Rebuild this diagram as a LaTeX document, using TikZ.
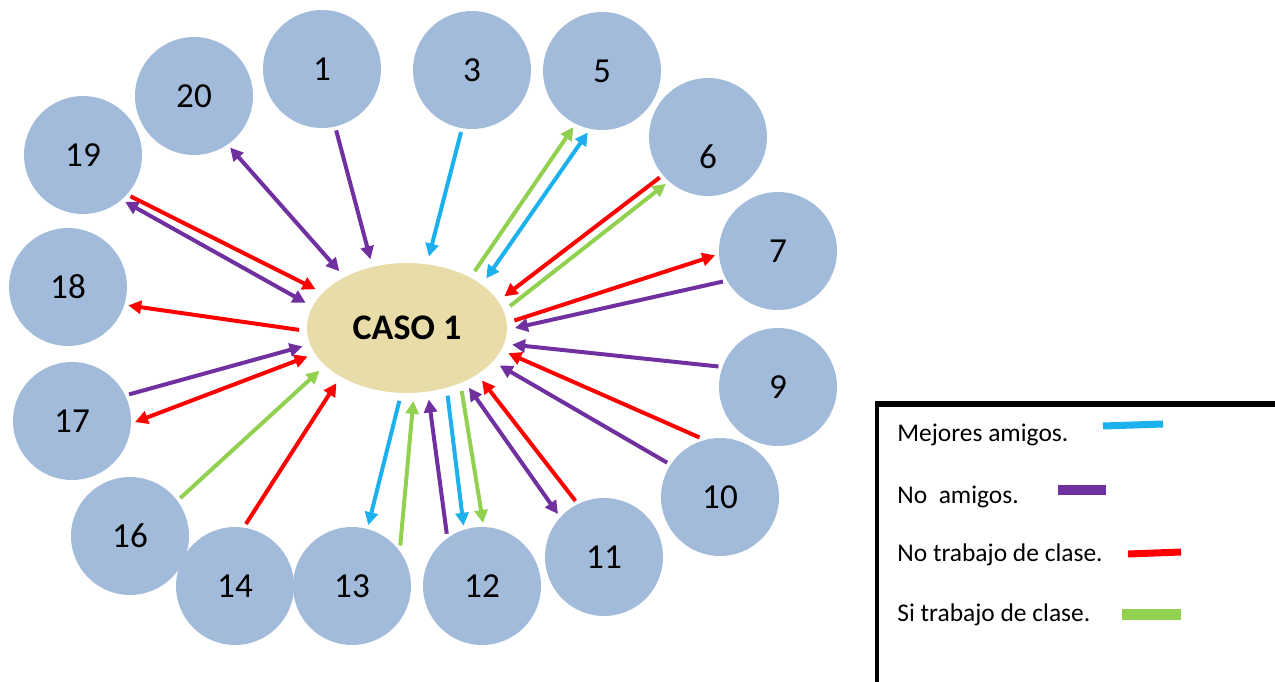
\documentclass[tikz,border=0pt]{standalone}
\usepackage{fontspec}
\setmainfont{Carlito}
\usepackage{xcolor}
\usepackage{tikz}
\usetikzlibrary{arrows.meta,shapes.geometric}
\definecolor{AmigoBlue}{HTML}{1CB0EC}
\definecolor{NoAmigoPurple}{HTML}{7030A0}
\definecolor{NoTrabajoRed}{HTML}{FF0000}
\definecolor{SiTrabajoGreen}{HTML}{92D050}
\definecolor{AlumnoBlue}{HTML}{A3BBDA}
\definecolor{CasoTan}{HTML}{E8DCA9}

\begin{document}
\begin{tikzpicture}[x=0.02cm, y=-0.02cm,
    alumno/.style={circle, fill=AlumnoBlue, minimum size=2.36cm, inner sep=0pt,
      outer sep=0.08cm, font=\fontsize{20}{24}\selectfont},
    caso/.style={ellipse, fill=CasoTan, minimum width=4cm, minimum height=2.6cm,
      inner sep=0pt, outer sep=0.16cm, font=\bfseries\fontsize{20.5}{24}\selectfont},
    arrow/.style={-{Triangle[length=2.6mm,width=2.6mm]}, line width=0.8mm},
    twoway/.style={{Triangle[length=2.6mm,width=2.6mm]}-{Triangle[length=2.6mm,width=2.6mm]}, line width=0.8mm},
    legend/.style={anchor=west, inner sep=0pt, font=\fontsize{14.5}{17}\selectfont}
  ]
    \useasboundingbox (0,0) rectangle (1275,682);
    \node[caso] (caso) at (407,328) {CASO 1};
    \node[alumno] (n1) at (322,69) {1};
    \node[alumno] (n3) at (472,70) {3};
    \node[alumno] (n5) at (602,71) {5};
    \node[alumno, label={[yshift=-0.4cm, font=\fontsize{20}{24}\selectfont]center:6}] (n6) at (708,137) {};
    \node[alumno] (n7) at (778,251) {7};
    \node[alumno] (n9) at (778,387) {9};
    \node[alumno] (n10) at (720,497) {10};
    \node[alumno] (n11) at (604,557) {11};
    \node[alumno] (n12) at (482,586) {12};
    \node[alumno] (n13) at (352,586) {13};
    \node[alumno] (n14) at (235,586) {14};
    \node[alumno] (n16) at (130,536) {16};
    \node[alumno] (n17) at (72,421) {17};
    \node[alumno] (n18) at (68,287) {18};
    \node[alumno] (n19) at (83,155) {19};
    \node[alumno] (n20) at (194,96) {20};
    \draw[twoway, NoAmigoPurple] (n20.-55.6) -- (caso.140.2);
    \draw[arrow, NoAmigoPurple] (n1.-77.7) -- (caso.118.1);
    \draw[arrow, AmigoBlue] (n3.-100.1) -- (caso.73.9);
    \draw[arrow, SiTrabajoGreen] (caso.40.5) -- (n5.-117.4);
    \draw[twoway, AmigoBlue] (caso.32.7) -- (n5.-103.2);
    \draw[arrow, NoTrabajoRed] (n6.-140.6) -- (caso.18.8);
    \draw[arrow, SiTrabajoGreen] (caso.12.6) -- (n6.-132.1);
    \draw[arrow, NoTrabajoRed] (caso.4.5) -- (n7.-176.6);
    \draw[arrow, NoAmigoPurple] (n7.-151) -- (caso.0);
    \draw[arrow, NoAmigoPurple] (n9.161.3) -- (caso.-9.4);
    \draw[arrow, NoTrabajoRed] (n10.109.8) -- (caso.-14.7);
    \draw[arrow, NoAmigoPurple] (n10.147.1) -- (caso.-22.2);
    \draw[arrow, NoTrabajoRed] (n11.117) -- (caso.-35.2);
    \draw[twoway, NoAmigoPurple] (n11.137.5) -- (caso.-44.6);
    \draw[arrow, SiTrabajoGreen] (caso.-49.1) -- (n12.89.1);
    \draw[arrow, AmigoBlue] (caso.-59.2) -- (n12.107.3);
    \draw[arrow, NoAmigoPurple] (n12.124.9) -- (caso.-73.1);
    \draw[arrow, SiTrabajoGreen] (n13.40.5) -- (caso.-85.7);
    \draw[arrow, AmigoBlue] (caso.-96) -- (n13.75.3);
    \draw[arrow, NoTrabajoRed] (n14.80.4) -- (caso.-142.6);
    \draw[arrow, SiTrabajoGreen] (n16.37.5) -- (caso.-154.2);
    \draw[twoway, NoTrabajoRed] (n17.-1.9) -- (caso.-164.4);
    \draw[arrow, NoAmigoPurple] (n17.25) -- (caso.-170.7);
    \draw[arrow, NoTrabajoRed] (caso.-179.4) -- (n18.-17.9);
    \draw[twoway, NoAmigoPurple] (n19.-48.2) -- (caso.166.5);
    \draw[arrow, NoTrabajoRed] (n19.-41.2) -- (caso.157.6);
    \draw[line width=0.12cm] (875,404) -- (1275,404);
    \draw[line width=0.08cm] (877,404) -- (877,682);
    \node[legend] (mejores) at (897,435) {Mejores amigos.};
    \node[legend] (noamigos) at (897,497) {No\ \ amigos.};
    \node[legend] (notrabajo) at (897,555) {No trabajo de clase.};
    \node[legend] (sitrabajo) at (897,615) {Si trabajo de clase.};
    \draw[AmigoBlue, line width=0.14cm] (1103,426) -- (1163,424);
    \draw[NoAmigoPurple, line width=0.2cm] (1058,490) -- (1106,490);
    \draw[NoTrabajoRed, line width=0.14cm] (1128,554) -- (1181,552);
    \draw[SiTrabajoGreen, line width=0.22cm] (1122,614) -- (1181,614);
  \end{tikzpicture}
\end{document}
